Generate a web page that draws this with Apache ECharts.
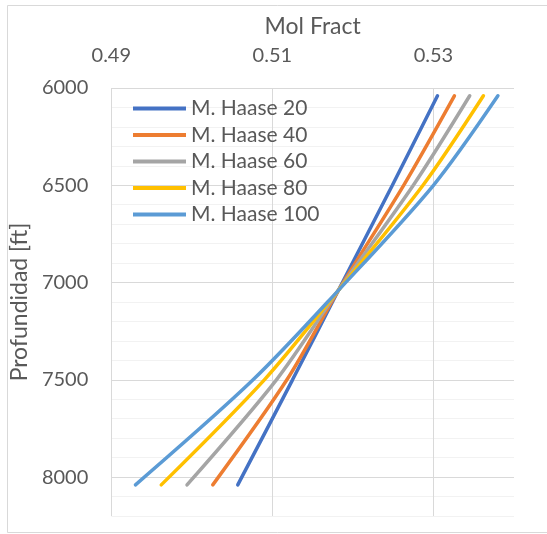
<!DOCTYPE html>
<html>
<head>
<meta charset="utf-8">
<script src="https://cdn.jsdelivr.net/npm/echarts@6/dist/echarts.min.js"></script>
<style>
html,body{margin:0;padding:0;background:#fff;}
#chart{width:547px;height:534px;}
</style>
</head>
<body>
<div id="chart"></div>
<script>
// Depths (ft) at which values were read
const depths = [6040, 6500, 7040, 7500, 8040];
// Mol fraction series
const seriesNames = ['M. Haase 20', 'M. Haase 40', 'M. Haase 60', 'M. Haase 80', 'M. Haase 100'];
const haase20  = [0.5305, 0.5249, 0.5182, 0.5125, 0.5057];
const haase40  = [0.5326, 0.5263, 0.5182, 0.5118, 0.5026];
const haase60  = [0.5345, 0.5275, 0.5182, 0.5105, 0.4994];
const haase80  = [0.5362, 0.5287, 0.5182, 0.5090, 0.4962];
const haase100 = [0.5380, 0.5300, 0.5182, 0.5076, 0.4930];
const colors = ['#4472C4', '#ED7D31', '#A5A5A5', '#FFC000', '#5B9BD5'];

const allValues = [haase20, haase40, haase60, haase80, haase100];
const FONT = 'Lato';
const TXT = '#595959';

const chart = echarts.init(document.getElementById('chart'), null, {renderer: 'canvas'});
chart.setOption({
  backgroundColor: '#fff',
  animation: false,
  textStyle: {fontFamily: FONT},
  graphic: [{
    type: 'rect', silent: true, z: -10,
    shape: {x: 7.5, y: 5.5, width: 560, height: 527},
    style: {fill: 'none', stroke: '#d9d9d9', lineWidth: 1}
  }],
  grid: {left: 110, right: 33, top: 88, bottom: 18, containLabel: false},
  legend: {
    orient: 'vertical',
    left: 133, top: 98, padding: 0,
    icon: 'rect',
    itemWidth: 53, itemHeight: 4, itemGap: 5.5,
    textStyle: {fontFamily: FONT, fontSize: 21, color: TXT, lineHeight: 21},
    data: seriesNames
  },
  xAxis: {
    type: 'value', position: 'top',
    min: 0.49, max: 0.54, interval: 0.01,
    name: 'Mol Fract', nameLocation: 'middle', nameGap: 50,
    nameTextStyle: {fontFamily: FONT, fontSize: 23, color: TXT},
    axisLine: {show: false}, axisTick: {show: false},
    axisLabel: {
      fontFamily: FONT, fontSize: 20, color: TXT, margin: 22,
      formatter: v => (Math.round(v * 100) % 2 === 1 ? v.toFixed(2) : '')
    },
    splitLine: {show: true, lineStyle: {color: ['#d9d9d9', 'rgba(0,0,0,0)'], width: 1}}
  },
  yAxis: {
    type: 'value', inverse: true,
    min: 6000, max: 8200, interval: 100,
    name: 'Profundidad [ft]', nameLocation: 'middle', nameGap: 64,
    nameTextStyle: {fontFamily: FONT, fontSize: 23, color: TXT},
    axisLine: {show: false}, axisTick: {show: false},
    axisLabel: {
      fontFamily: FONT, fontSize: 20, color: TXT, margin: 23,
      formatter: v => (v % 500 === 0 ? String(v) : '')
    },
    splitLine: {show: true, lineStyle: {color: ['#d9d9d9', '#f2f2f2', '#f2f2f2', '#f2f2f2', '#f2f2f2'], width: 1}}
  },
  series: seriesNames.map((name, i) => ({
    name: name,
    type: 'line',
    data: depths.map((d, k) => [allValues[i][k], d]),
    symbol: 'none',
    smooth: 0.3,
    color: colors[i],
    lineStyle: {width: 3.5, color: colors[i], cap: 'round'}
  }))
});
</script>
</body>
</html>
